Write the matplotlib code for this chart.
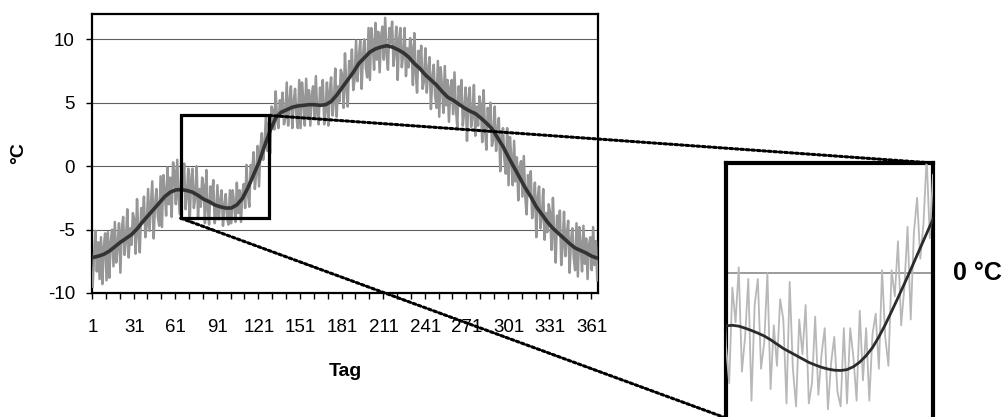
import numpy as np
import matplotlib
matplotlib.use("Agg")
import matplotlib.pyplot as plt
from matplotlib.patches import Rectangle, ConnectionPatch
from matplotlib.transforms import blended_transform_factory

plt.rcParams["font.family"] = ["Liberation Sans", "DejaVu Sans"]

# daily temperatures (deg C), day 1..365
daily_temps = [
    -9.5, -7.0, -5.1, -8.3, -6.0, -8.9, -5.6, -9.3, -6.4, -5.3,
    -9.0, -5.2, -8.8, -6.0, -5.0, -7.9, -4.4, -7.6, -6.3, -4.5,
    -8.4, -5.0, -4.0, -7.0, -5.9, -3.4, -7.2, -4.9, -6.2, -3.7,
    -4.2, -6.9, -2.6, -5.3, -6.8, -3.3, -4.3, -2.4, -5.6, -4.7,
    -1.8, -5.1, -3.2, -1.2, -5.7, -3.0, -1.8, -4.0, -4.7, -0.8,
    -4.8, -0.7, -2.0, -3.9, -0.1, -3.0, -0.9, -4.0, 0.3, -0.4,
    -3.0, 0.5, -2.5, -3.8, -0.5, -1.7, 0.2, -3.4, -2.2, -0.2,
    -4.4, -1.1, -0.2, -3.3, -2.4, 0.0, -4.0, -1.8, -3.2, -0.9,
    -1.6, -4.5, -0.3, -3.3, -4.6, -1.6, -2.8, -1.1, -4.5, -3.8,
    -1.5, -4.2, -2.8, -1.9, -4.7, -3.1, -2.2, -4.1, -4.6, -1.9,
    -4.5, -1.9, -2.9, -4.4, -1.3, -3.7, -1.9, -4.4, -2.1, -1.4,
    -3.3, 0.1, -2.2, -3.2, 0.1, -0.8, 1.1, -1.8, -0.5, 1.6,
    -1.6, 1.4, 2.6, 0.5, 1.7, 4.0, 1.2, 3.4, 1.0, 4.7,
    4.4, 2.9, 5.9, 3.7, 3.0, 5.2, 4.4, 5.8, 3.3, 3.8,
    6.6, 3.2, 5.1, 6.3, 3.0, 5.0, 6.1, 3.9, 3.0, 6.8,
    3.0, 6.6, 5.2, 3.2, 6.9, 3.9, 6.0, 3.2, 5.6, 6.3,
    3.8, 7.1, 4.2, 3.3, 6.2, 5.0, 6.8, 3.3, 4.5, 6.6,
    3.2, 5.9, 7.0, 4.0, 5.1, 7.7, 3.9, 6.3, 5.1, 7.6,
    7.2, 4.6, 8.9, 6.2, 4.7, 8.3, 7.2, 9.2, 6.0, 6.9,
    9.9, 6.7, 8.6, 9.9, 6.1, 8.8, 10.0, 7.8, 7.0, 10.9,
    6.8, 10.9, 9.6, 7.6, 11.3, 8.4, 10.6, 7.4, 10.2, 11.0,
    8.4, 11.7, 8.9, 7.6, 10.9, 9.7, 11.4, 7.9, 9.1, 11.0,
    6.8, 10.0, 10.9, 7.8, 8.8, 10.9, 7.1, 9.3, 7.8, 10.1,
    9.3, 6.4, 10.5, 7.5, 5.8, 9.1, 7.8, 9.5, 6.1, 6.7,
    9.3, 5.8, 7.5, 8.6, 4.5, 7.0, 8.0, 5.6, 4.6, 8.3,
    3.9, 7.8, 6.3, 4.2, 7.9, 4.8, 6.8, 3.5, 6.2, 6.8,
    4.1, 7.4, 4.5, 3.1, 6.3, 5.1, 6.8, 3.2, 4.3, 6.2,
    2.0, 5.3, 6.2, 3.1, 4.0, 6.4, 2.4, 4.7, 3.2, 5.5,
    4.8, 1.9, 6.0, 3.0, 1.3, 4.6, 3.3, 5.0, 1.6, 2.1,
    4.7, 1.2, 2.8, 3.8, -0.4, 2.1, 3.0, 0.5, -0.6, 3.0,
    -1.5, 2.3, 0.7, -1.5, 2.0, -1.2, 0.7, -2.7, -0.1, 0.4,
    -2.4, 0.8, -2.3, -3.8, -0.7, -2.1, -0.4, -4.1, -3.1, -1.3,
    -5.6, -2.5, -1.6, -4.9, -4.0, -1.8, -5.8, -3.7, -5.2, -3.0,
    -3.7, -6.6, -2.5, -5.5, -7.6, -3.9, -5.2, -3.5, -7.8, -6.3,
    -3.6, -7.1, -5.4, -4.3, -8.4, -5.9, -4.9, -7.2, -8.2, -4.5,
    -8.7, -4.8, -6.2, -8.3, -4.7, -7.7, -5.7, -8.9, -6.2, -5.6,
    -8.2, -4.8, -7.8, -5.9, -9.0,
]

# smoothed curve, one value every 4 days (day 1, 5, 9, ... 365)
smooth_temps = [
    -7.2, -7.1, -6.95, -6.7, -6.35, -6.0, -5.7, -5.4, -4.95, -4.4,
    -3.9, -3.4, -2.9, -2.4, -2.05, -1.87, -1.85, -1.92, -2.05, -2.3,
    -2.6, -2.8, -3.05, -3.2, -3.3, -3.3, -3.05, -2.55, -1.7, -0.7,
    0.3, 1.6, 2.8, 3.8, 4.25, 4.45, 4.65, 4.75, 4.8, 4.85,
    4.85, 4.8, 4.85, 5.1, 5.6, 6.2, 6.8, 7.4, 8.1, 8.55,
    9.0, 9.25, 9.4, 9.5, 9.4, 9.2, 8.95, 8.6, 8.1, 7.7,
    7.2, 6.8, 6.4, 5.9, 5.45, 5.2, 4.9, 4.6, 4.35, 4.15,
    3.8, 3.4, 2.95, 2.25, 1.55, 0.7, -0.1, -0.9, -1.7, -2.4,
    -3.2, -3.8, -4.4, -4.9, -5.3, -5.7, -6.1, -6.45, -6.65, -6.85,
    -7.1, -7.25,
]

# same curve read more finely (every 2 days, day 59..131) for the magnified view
detail_temps = [
    -1.95, -1.88, -1.82, -1.8, -1.83, -1.9, -1.98, -2.07, -2.17, -2.3,
    -2.45, -2.6, -2.72, -2.84, -2.96, -3.08, -3.17, -3.25, -3.31, -3.35,
    -3.36, -3.33, -3.23, -3.07, -2.85, -2.57, -2.2, -1.78, -1.32, -0.85,
    -0.37, 0.12, 0.62, 1.12, 1.62, 2.1, 2.55,
]

days = np.arange(1, len(daily_temps) + 1)
smooth_days = np.arange(1, 366, 4)
detail_days = np.arange(59, 132, 2)
label_days = np.arange(1, 366, 30)
y_ticks = [-10, -5, 0, 5, 10]

# zoomed region (days, deg C)
box_days = (64.5, 128.2)
box_temps = (-4.1, 4.0)

fig = plt.figure(figsize=(10.04, 4.17), dpi=100)

# main chart
ax = fig.add_axes([0.0916, 0.2974, 0.504, 0.669])
ax.plot(days, daily_temps, color="#969696", lw=1.8, zorder=3)
ax.plot(smooth_days, smooth_temps, color="#333333", lw=2.6, zorder=4)
ax.set_xlim(0.5, 365.5)
ax.set_ylim(-10, 12)
ax.set_yticks(y_ticks)
ax.set_yticklabels([str(t) for t in y_ticks])
ax.set_xticks(label_days)
ax.set_xticklabels([str(d) for d in label_days])
ax.set_xticks(np.arange(0.5, 366, 10), minor=True)
ax.grid(axis="y", color="#606060", lw=0.8)
ax.set_axisbelow(True)
ax.tick_params(axis="x", which="major", length=0, pad=19, labelsize=13.5)
ax.tick_params(axis="x", which="minor", length=4.5, width=1, direction="out")
ax.tick_params(axis="y", length=4.3, width=1, direction="out", pad=8, labelsize=13.5)
for sp in ax.spines.values():
    sp.set_linewidth(1.6)
    sp.set_color("black")

ax.text(0.5, -0.283, "Tag", transform=ax.transAxes, ha="center", va="center",
        fontsize=14, fontweight="bold")
ax.text(-0.144, 0.5, "°C", transform=ax.transAxes, ha="center", va="center",
        rotation=90, fontsize=14, fontweight="bold")

ax.add_patch(Rectangle((box_days[0], box_temps[0]), box_days[1] - box_days[0],
                       box_temps[1] - box_temps[0], fill=False, ec="black",
                       lw=2.3, zorder=6))

# magnified inset
ax2 = fig.add_axes([0.7231, -0.0024, 0.2062, 0.6115])
ax2.plot(days, daily_temps, color="#b8b8b8", lw=1.3, zorder=3)
ax2.plot(detail_days, detail_temps, color="#2b2b2b", lw=2.0, zorder=4)
ax2.axhline(0, color="#8a8a8a", lw=1.2, zorder=2)
ax2.set_xlim(63, 128)
ax2.set_ylim(-5.0, 3.8)
ax2.set_xticks([])
ax2.set_yticks([])
for sp in ax2.spines.values():
    sp.set_linewidth(3.0)
    sp.set_color("black")

trans = blended_transform_factory(ax2.transAxes, ax2.transData)
ax2.text(1.097, 0, "0 °C", transform=trans, ha="left", va="center",
         fontsize=18, fontweight="bold", clip_on=False)

# dotted connectors from the box to the inset
con1 = ConnectionPatch(xyA=(box_days[1], box_temps[1]), coordsA=ax.transData,
                       xyB=(1, 1), coordsB=ax2.transAxes,
                       color="black", lw=2.2, linestyle=(0, (0.9, 0.9)), zorder=10)
con2 = ConnectionPatch(xyA=(box_days[0], box_temps[0]), coordsA=ax.transData,
                       xyB=(0, 0), coordsB=ax2.transAxes,
                       color="black", lw=2.2, linestyle=(0, (0.9, 0.9)), zorder=10)
fig.add_artist(con1)
fig.add_artist(con2)

fig.savefig("out.png", dpi=100)
